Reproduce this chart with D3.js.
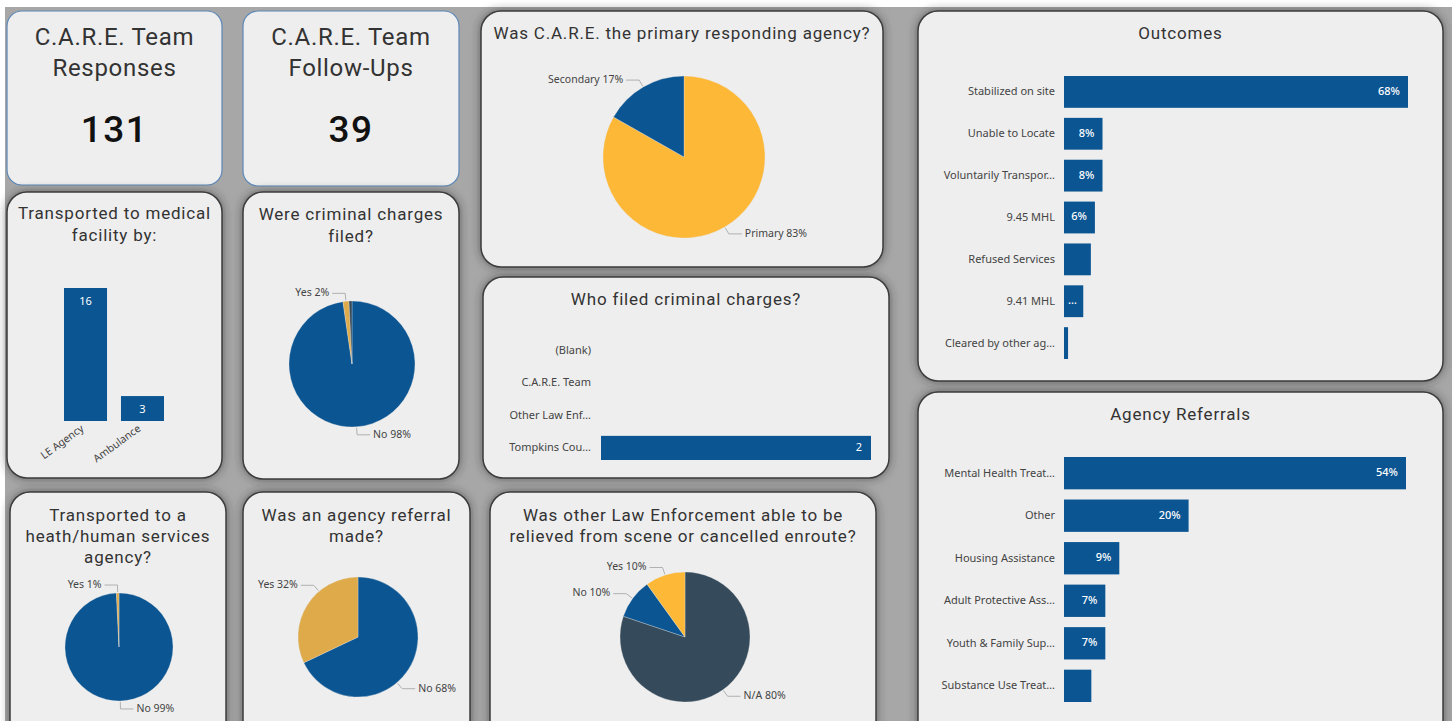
<!doctype html>
<html>
<head>
<meta charset="utf-8">
<title>C.A.R.E. Team dashboard</title>
<script src="https://d3js.org/d3.v7.min.js"></script>
<style>
  body { margin: 0; background: #fff; }
  svg { display: block; }
</style>
</head>
<body>
<svg id="dash" width="1452" height="721"></svg>
<script>
// ---- data ----
var kpiTitles = [["C.A.R.E. Team", "Responses"], ["C.A.R.E. Team", "Follow-Ups"]];
var kpiValues = [131, 39];

var medicalCategories = ["LE Agency", "Ambulance"];
var medicalValues = [16, 3];

var chargesCategories = ["No", "Yes", "(Blank)"];
var chargesValues = [128, 2, 1];

var healthCategories = ["No", "Yes"];
var healthValues = [130, 1];

var referralCategories = ["No", "Yes"];
var referralValues = [89, 42];

var primaryCategories = ["Primary", "Secondary"];
var primaryValues = [109, 22];

var leCategories = ["N/A", "No", "Yes"];
var leValues = [105, 13, 13];

var filedCategories = ["(Blank)", "C.A.R.E. Team", "Other Law Enf…", "Tompkins Cou…"];
var filedValues = [0, 0, 0, 2];

var outcomeCategories = ["Stabilized on site", "Unable to Locate", "Voluntarily Transpor…", "9.45 MHL",
                         "Refused Services", "9.41 MHL", "Cleared by other ag…"];
var outcomeValues = [67.9, 7.6, 7.6, 6.1, 5.3, 3.8, 0.8];
var outcomeLabels = ["68%", "8%", "8%", "6%", "", "…", ""];

var referralTypeCategories = ["Mental Health Treat…", "Other", "Housing Assistance", "Adult Protective Ass…",
                              "Youth & Family Sup…", "Substance Use Treat…"];
var referralTypeValues = [53.8, 19.6, 8.7, 6.5, 6.5, 4.3];
var referralTypeLabels = ["54%", "20%", "9%", "7%", "7%", ""];

// ---- style ----
var BLUE = "#0b5592", YELLOW = "#fdb838", GOLD = "#deaa4a", SLATE = "#354a5a";
var TITLE_FONT = "Roboto, 'DejaVu Sans', sans-serif";
var LABEL_FONT = "'Noto Sans', 'Open Sans', sans-serif";

var svg = d3.select("#dash");
var defs = svg.append("defs");
var f = defs.append("filter").attr("id", "shadow").attr("x", "-10%").attr("y", "-10%")
  .attr("width", "120%").attr("height", "120%");
f.append("feDropShadow").attr("dx", 0).attr("dy", 0).attr("stdDeviation", 5)
  .attr("flood-color", "#2a2a2a").attr("flood-opacity", 0.6);

svg.append("rect").attr("x", 5).attr("y", 7).attr("width", 1447).attr("height", 714).attr("fill", "#a7a7a7");

function card(x, y, w, h, kpi) {
  var g = svg.append("g");
  g.append("rect").attr("x", x).attr("y", y).attr("width", w).attr("height", h)
    .attr("rx", kpi ? 15 : 20)
    .attr("fill", "#eeeeee")
    .attr("stroke", kpi ? "#5b88b8" : "#3c3c3c")
    .attr("stroke-width", kpi ? 1.2 : 1.5)
    .attr("filter", kpi ? null : "url(#shadow)");
  return {g: g, x: x, y: y, w: w, h: h};
}

function title(c, lines, y0, size, gap, spacing) {
  lines.forEach(function (t, i) {
    c.g.append("text").attr("x", c.x + c.w / 2).attr("y", y0 + i * gap)
      .attr("text-anchor", "middle").attr("dominant-baseline", "middle")
      .attr("font-family", TITLE_FONT).attr("font-size", size)
      .attr("letter-spacing", (spacing == null ? 0.8 : spacing) + "px").attr("fill", "#333")
      .text(t);
  });
}

// ---- KPI cards ----
[[7, 11, 215, 174], [243, 11, 216, 175]].forEach(function (b, i) {
  var c = card(b[0], b[1], b[2], b[3], true);
  title(c, kpiTitles[i], 39, 24, 31, 0.7);
  c.g.append("text").attr("x", c.x + c.w / 2).attr("y", 132)
    .attr("text-anchor", "middle").attr("dominant-baseline", "middle")
    .attr("font-family", TITLE_FONT).attr("font-size", 37).attr("font-weight", 500)
    .attr("letter-spacing", "1.5px")
    .attr("fill", "#111").text(kpiValues[i]);
});

// ---- pie helper ----
function pieChart(c, cx, cy, r, cats, vals, colors, shown) {
  var total = d3.sum(vals);
  var fmt = d3.format(".0%");
  var arcs = d3.pie().sort(null).value(function (d) { return d.v; })
    (cats.map(function (k, i) { return {k: k, v: vals[i]}; }));
  var arc = d3.arc().innerRadius(0).outerRadius(r);
  c.g.selectAll(null).data(arcs).join("path")
    .attr("transform", "translate(" + cx + "," + cy + ")")
    .attr("d", arc)
    .attr("fill", function (d, i) { return colors[i]; })
    .attr("stroke", "#e6e6e6").attr("stroke-width", 0.3);

  arcs.forEach(function (d, i) {
    if (!shown[i]) return;
    var txt = c.g.append("text")
      .attr("font-family", LABEL_FONT).attr("font-size", 10.5).attr("fill", "#444")
      .attr("dominant-baseline", "middle")
      .text(d.data.k + " " + fmt(d.data.v / total));
    var tw = txt.node().getComputedTextLength();
    var a = (d.startAngle + d.endAngle) / 2;
    var pole = Math.abs(a - Math.PI) < Math.min(a, 2 * Math.PI - a) ? Math.PI : (a > Math.PI ? 2 * Math.PI : 0);
    var p0, p1, p2, side, tx;
    for (var k = 0; k < 40; k++) {
      var s = Math.sin(a), co = Math.cos(a);
      side = s >= 0 ? 1 : -1;
      p0 = [cx + (r + 1) * s, cy - (r + 1) * co];
      p1 = [cx + (r + 8) * s, cy - (r + 8) * co];
      p2 = [p1[0] + side * 13, p1[1]];
      tx = p2[0] + side * 3;
      var left = side > 0 ? tx : tx - tw, right = side > 0 ? tx + tw : tx;
      if (left > c.x + 12 && right < c.x + c.w - 12) break;
      a += (pole > a ? 1 : -1) * 0.06;
    }
    c.g.append("polyline").attr("points", [p0, p1, p2].map(function (p) { return p.join(","); }).join(" "))
      .attr("fill", "none").attr("stroke", "#b0b0b0").attr("stroke-width", 1);
    txt.attr("x", tx).attr("y", p2[1]).attr("text-anchor", side > 0 ? "start" : "end");
  });
}

// ---- Transported to medical facility by ----
(function () {
  var c = card(7, 192, 215, 286);
  title(c, ["Transported to medical", "facility by:"], 215, 17, 22);
  var x = d3.scaleBand().domain(medicalCategories).range([64, 164]).paddingInner(0.245);
  var y = d3.scaleLinear().domain([0, 16]).range([421, 288]);
  c.g.selectAll(null).data(medicalValues).join("rect")
    .attr("x", function (d, i) { return x(medicalCategories[i]); })
    .attr("y", function (d) { return y(d); })
    .attr("width", x.bandwidth()).attr("height", function (d) { return y(0) - y(d); })
    .attr("fill", BLUE);
  c.g.selectAll(null).data(medicalValues).join("text")
    .attr("x", function (d, i) { return x(medicalCategories[i]) + x.bandwidth() / 2; })
    .attr("y", function (d) { return y(d) + 14; })
    .attr("text-anchor", "middle").attr("dominant-baseline", "middle")
    .attr("font-family", LABEL_FONT).attr("font-size", 11).attr("fill", "#fff")
    .text(function (d) { return d; });
  var ax = c.g.append("g").attr("transform", "translate(0,421)")
    .call(d3.axisBottom(x).tickSize(0).tickPadding(0));
  ax.select(".domain").remove();
  ax.selectAll("text").attr("font-family", LABEL_FONT).attr("font-size", 10.5).attr("fill", "#444")
    .attr("text-anchor", "end").attr("dy", 0)
    .attr("transform", "translate(-1,9) rotate(-36)");
})();

// ---- Were criminal charges filed? ----
(function () {
  var c = card(243, 192, 216, 287);
  title(c, ["Were criminal charges", "filed?"], 216, 17, 22);
  pieChart(c, 352, 364, 63, chargesCategories, chargesValues, [BLUE, GOLD, SLATE], [true, true, false]);
})();

// ---- Transported to a health/human services agency? ----
(function () {
  var c = card(10, 492, 216, 250);
  title(c, ["Transported to a", "heath/human services", "agency?"], 517, 17, 21);
  pieChart(c, 119, 647, 54, healthCategories, healthValues, [BLUE, GOLD], [true, true]);
})();

// ---- Was an agency referral made? ----
(function () {
  var c = card(243, 492, 227, 250);
  title(c, ["Was an agency referral", "made?"], 517, 17, 21);
  pieChart(c, 358, 637, 60, referralCategories, referralValues, [BLUE, GOLD], [true, true]);
})();

// ---- Was C.A.R.E. the primary responding agency? ----
(function () {
  var c = card(481, 11, 402, 256);
  title(c, ["Was C.A.R.E. the primary responding agency?"], 35, 17, 21);
  pieChart(c, 684, 157, 81, primaryCategories, primaryValues, [YELLOW, BLUE], [true, true]);
})();

// ---- Who filed criminal charges? ----
(function () {
  var c = card(483, 277, 406, 201);
  title(c, ["Who filed criminal charges?"], 301, 17, 21);
  var y = d3.scaleBand().domain(filedCategories).range([338, 460]).paddingInner(0.26);
  var x = d3.scaleLinear().domain([0, d3.max(filedValues)]).range([601, 871]);
  c.g.selectAll(null).data(filedValues).join("rect")
    .attr("x", x(0)).attr("y", function (d, i) { return y(filedCategories[i]); })
    .attr("width", function (d) { return x(d) - x(0); }).attr("height", y.bandwidth())
    .attr("fill", BLUE);
  c.g.selectAll(null).data(filedValues).join("text")
    .filter(function (d) { return d > 0; })
    .attr("x", function (d) { return x(d) - 9; })
    .attr("y", function (d, i) { return y(filedCategories[3]) + y.bandwidth() / 2; })
    .attr("text-anchor", "end").attr("dominant-baseline", "middle")
    .attr("font-family", LABEL_FONT).attr("font-size", 11).attr("fill", "#fff")
    .text(function (d) { return d; });
  var ay = c.g.append("g").attr("transform", "translate(591,0)")
    .call(d3.axisLeft(y).tickSize(0).tickPadding(0));
  ay.select(".domain").remove();
  ay.selectAll("text").attr("font-family", LABEL_FONT).attr("font-size", 11).attr("fill", "#444");
})();

// ---- Was other Law Enforcement able to be relieved ... ----
(function () {
  var c = card(490, 492, 386, 250);
  title(c, ["Was other Law Enforcement able to be", "relieved from scene or cancelled enroute?"], 517, 17, 21);
  pieChart(c, 685, 637, 65, leCategories, leValues, [SLATE, BLUE, YELLOW], [true, true, true]);
})();

// ---- horizontal bar helper ----
function hbar(c, cats, vals, labels, top, bottom, x0, x1) {
  var y = d3.scaleBand().domain(cats).range([top, bottom]).paddingInner(0.24);
  var x = d3.scaleLinear().domain([0, d3.max(vals)]).range([x0, x1]);
  c.g.selectAll(null).data(vals).join("rect")
    .attr("x", x(0)).attr("y", function (d, i) { return y(cats[i]); })
    .attr("width", function (d) { return x(d) - x(0); }).attr("height", y.bandwidth())
    .attr("fill", BLUE);
  c.g.selectAll(null).data(vals).join("text")
    .attr("x", function (d, i) { return labels[i] === "…" ? x(0) + 4 : x(d) - 8; })
    .attr("y", function (d, i) { return y(cats[i]) + y.bandwidth() / 2; })
    .attr("text-anchor", function (d, i) { return labels[i] === "…" ? "start" : "end"; })
    .attr("dominant-baseline", "middle")
    .attr("font-family", LABEL_FONT).attr("font-size", 11).attr("font-weight", 500).attr("fill", "#fff")
    .text(function (d, i) { return labels[i]; });
  var ay = c.g.append("g").attr("transform", "translate(" + (x0 - 9) + ",0)")
    .call(d3.axisLeft(y).tickSize(0).tickPadding(0));
  ay.select(".domain").remove();
  ay.selectAll("text").attr("font-family", LABEL_FONT).attr("font-size", 11).attr("fill", "#444");
}

// ---- Outcomes ----
(function () {
  var c = card(918, 11, 525, 370);
  title(c, ["Outcomes"], 35, 17, 21);
  hbar(c, outcomeCategories, outcomeValues, outcomeLabels, 76, 359, 1064, 1408);
})();

// ---- Agency Referrals ----
(function () {
  var c = card(918, 392, 525, 350);
  title(c, ["Agency Referrals"], 416, 17, 21);
  hbar(c, referralTypeCategories, referralTypeValues, referralTypeLabels, 457, 702, 1064, 1406);
})();
</script>
</body>
</html>
